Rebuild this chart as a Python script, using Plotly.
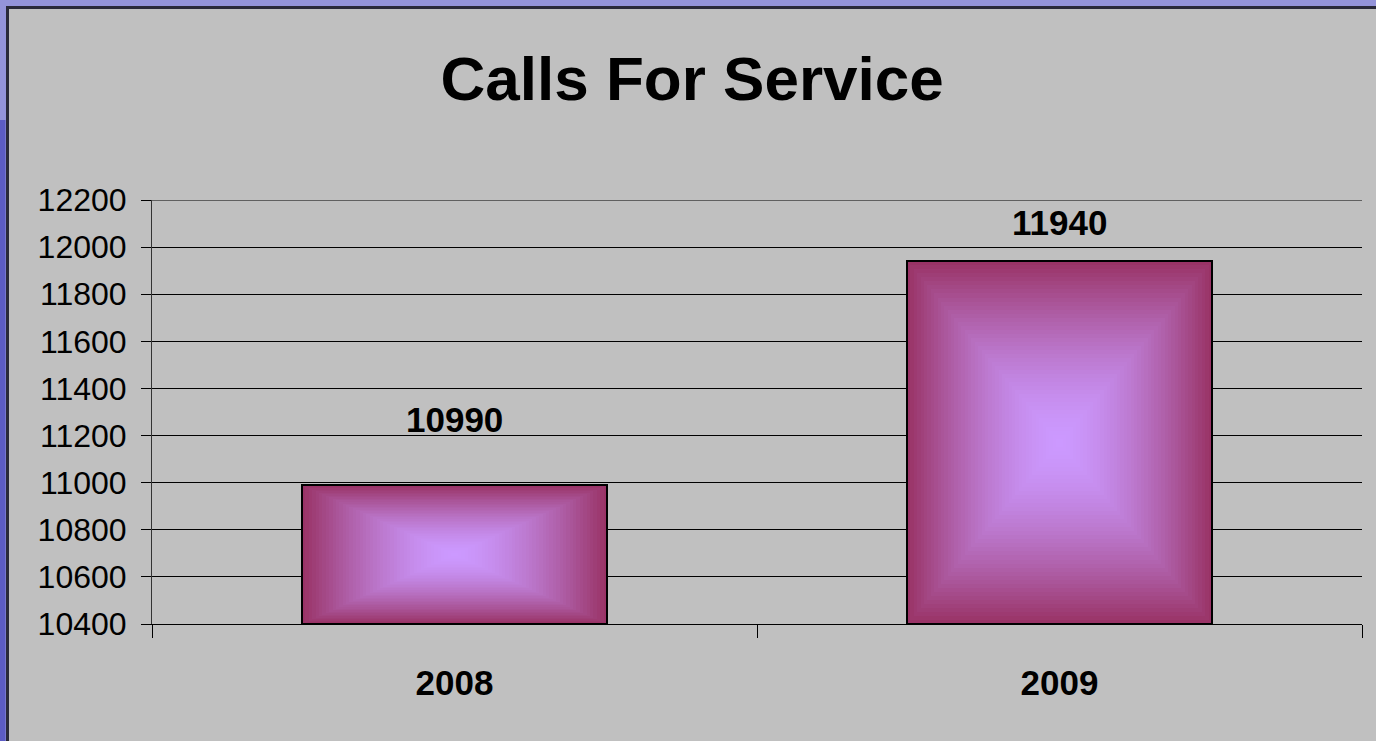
import plotly.graph_objects as go

# 数据
years = ["2008", "2009"]
calls = [10990, 11940]
y_tick_vals = [10400, 10600, 10800, 11000, 11200, 11400, 11600, 11800, 12000, 12200]

# 样式
Y_MIN, Y_MAX = 10400, 12200
BAR_W = 0.504
OUTER = (153, 51, 102)     # 边缘洋红
INNER = (204, 153, 255)    # 中心淡紫
N_LAYERS = 45
FONT = "Liberation Sans, Arial, sans-serif"
LABEL_SHIFT = [66, 39]     # 数据标签离柱顶的像素

W, H = 1376, 741
L, R, T, B = 152, 14, 200, 117
pw, ph = W - L - R, H - T - B


def mix(a, b, t):
    return "rgb(%d,%d,%d)" % tuple(round(a[i] + (b[i] - a[i]) * t) for i in range(3))


fig = go.Figure()

# 矩形渐变：由外向内逐层缩小的柱子
for k in range(N_LAYERS):
    s = 1 - k / N_LAYERS
    t = 1 - s ** 1.6       # 边缘暗得快，中间更亮
    fig.add_trace(go.Bar(
        x=years,
        y=[(v - Y_MIN) * s for v in calls],
        base=[Y_MIN + (v - Y_MIN) * (1 - s) / 2 for v in calls],
        width=BAR_W * s,
        marker=dict(color=mix(OUTER, INNER, t), line=dict(width=0), opacity=1),
        hoverinfo="skip", showlegend=False,
    ))

# 黑色外框
fig.add_trace(go.Bar(
    x=years, y=[v - Y_MIN for v in calls], base=Y_MIN, width=BAR_W,
    marker=dict(color="rgba(0,0,0,0)", line=dict(color="black", width=2)),
    customdata=calls, hovertemplate="%{x}: %{customdata}<extra></extra>",
    showlegend=False,
))

# 数据标签
for i, (v, sh) in enumerate(zip(calls, LABEL_SHIFT)):
    fig.add_annotation(
        x=i, xref="x", y=v, yref="y", text=f"<b>{v}</b>", showarrow=False,
        yanchor="middle", yshift=sh,
        font=dict(family=FONT, size=35, color="black"),
    )

# 顶部网格线（plotly 在轴端不画）
fig.add_shape(type="line", xref="paper", yref="y", x0=0, x1=1, y0=Y_MAX, y1=Y_MAX,
              line=dict(color="black", width=1), layer="above")

# 灰色面板和外框
px_x = lambda p: (p - L) / pw
px_y = lambda p: (H - B - p) / ph
fig.add_shape(type="rect", xref="paper", yref="paper",
              x0=px_x(7.5), x1=px_x(W + 50), y0=px_y(H + 50), y1=px_y(7.5),
              fillcolor="#c0c0c0", line=dict(color="#2a2a3a", width=3), layer="below")
fig.add_shape(type="rect", xref="paper", yref="paper",
              x0=px_x(-5), x1=px_x(5.5), y0=px_y(H + 5), y1=px_y(120),
              fillcolor="#5c5cc4", line=dict(width=0), layer="below")

fig.update_layout(
    width=W, height=H,
    margin=dict(l=L, r=R, t=T, b=B),
    paper_bgcolor="#9494da",
    plot_bgcolor="#c0c0c0",
    barmode="overlay",
    bargap=0,
    title=dict(
        text="Calls For Service", x=0.503, xref="container", xanchor="center",
        y=1 - 78 / H, yref="container", yanchor="middle",
        font=dict(family=FONT, size=62, color="black", weight="bold"),
    ),
    xaxis=dict(
        type="category", range=[-0.5, 1.5],
        showline=True, linecolor="black", linewidth=1,
        ticks="outside", tickson="boundaries", ticklen=13, tickcolor="black",
        showgrid=False, ticklabelstandoff=28,
        tickfont=dict(family=FONT, size=35, color="black", weight="bold"),
    ),
    yaxis=dict(
        range=[Y_MIN, Y_MAX], tickvals=y_tick_vals, tickformat="d",
        showline=True, linecolor="#333333", linewidth=1,
        ticks="outside", ticklen=10, tickcolor="black",
        showgrid=True, gridcolor="black", gridwidth=1, zeroline=False,
        ticklabelstandoff=8,
        tickfont=dict(family=FONT, size=32, color="black"),
    ),
)

# 去掉页面默认的 8px 边距
fig.write_html("out.html", config={"displayModeBar": False},
               post_script="document.body.style.margin='0';")
